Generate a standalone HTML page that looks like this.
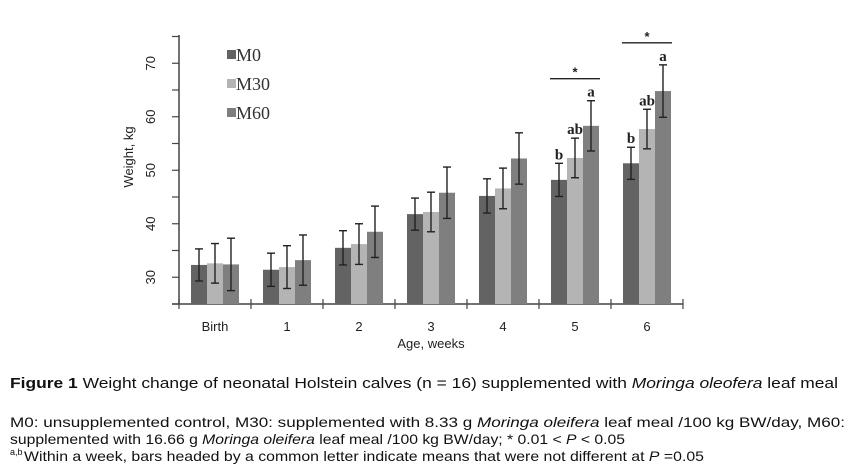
<!DOCTYPE html>
<html><head><meta charset="utf-8"><style>
html,body{margin:0;padding:0;background:#fff;width:851px;height:473px;overflow:hidden}
svg{display:block}
</style></head><body>
<svg id="chart" width="851" height="473" viewBox="0 0 851 473" xmlns="http://www.w3.org/2000/svg">
<g id="plot"></g>
<g font-family="'Liberation Sans',Arial,sans-serif" fill="#111">
<text x="10" y="388" font-size="15" textLength="828" lengthAdjust="spacingAndGlyphs"><tspan font-weight="bold">Figure 1</tspan> Weight change of neonatal Holstein calves (n = 16) supplemented with <tspan font-style="italic">Moringa oleofera</tspan> leaf meal</text>
<text x="10" y="427" font-size="14" textLength="835" lengthAdjust="spacingAndGlyphs">M0: unsupplemented control, M30: supplemented with 8.33 g <tspan font-style="italic">Moringa oleifera</tspan> leaf meal /100 kg BW/day, M60:</text>
<text x="10" y="444" font-size="14" textLength="615" lengthAdjust="spacingAndGlyphs">supplemented with 16.66 g <tspan font-style="italic">Moringa oleifera</tspan> leaf meal /100 kg BW/day; * 0.01 &lt; <tspan font-style="italic">P</tspan> &lt; 0.05</text>
<text x="10" y="455" font-size="9">a,b</text>
<text x="24" y="461" font-size="14" textLength="680" lengthAdjust="spacingAndGlyphs">Within a week, bars headed by a common letter indicate means that were not different at <tspan font-style="italic">P</tspan> =0.05</text>
</g>
</svg>
<script>
const categories = ["Birth","1","2","3","4","5","6"];
const m0 = [32.3,31.4,35.5,41.8,45.2,48.2,51.3];
const m30 = [32.6,31.9,36.2,42.2,46.6,52.3,57.7];
const m60 = [32.4,33.2,38.5,45.8,52.2,58.3,64.8];
const m0Err = [3.0,3.1,3.2,3.0,3.2,3.1,3.0];
const m30Err = [3.7,4.0,3.8,3.7,3.8,3.7,3.7];
const m60Err = [4.9,4.7,4.8,4.8,4.8,4.7,4.9];
const yTicks = [30,40,50,60,70];
const m0Letters = ["","","","","","b","b"];
const m30Letters = ["","","","","","ab","ab"];
const m60Letters = ["","","","","","a","a"];
const sigWeeks = ["5","6"];

const NS="http://www.w3.org/2000/svg";
const g=document.getElementById('plot');
const x0=179, catW=72, yBase=304, yMin=25, pxPer=5.35;
const y=v=>yBase-(v-yMin)*pxPer;
const catX=i=>x0+catW*i+catW/2;
function el(t,a,p){const e=document.createElementNS(NS,t);for(const k in a)e.setAttribute(k,a[k]);(p||g).appendChild(e);return e;}

// axes
const ya=el('line',{x1:x0,y1:35,x2:x0,y2:yBase,stroke:'#444','stroke-width':1.5});


const xa=el('line',{x1:x0-7,y1:yBase,x2:x0+catW*categories.length,y2:yBase,stroke:'#444','stroke-width':1.5});


for(let v=yMin;v<=75;v+=5){
  const t=el('line',{x1:x0-7,y1:y(v),x2:x0,y2:y(v),stroke:'#444','stroke-width':1.2});
  
  
}
yTicks.forEach(v=>{
  const t=el('text',{x:0,y:0,transform:`translate(155,${y(v)}) rotate(-90)`,'text-anchor':'middle','font-size':13,'font-family':"'Liberation Sans',Arial,sans-serif",fill:'#222'});
  t.textContent=v;
  
  
});
const yl=el('text',{x:0,y:0,transform:'translate(133,157) rotate(-90)','text-anchor':'middle','font-size':13,'font-family':"'Liberation Sans',Arial,sans-serif",fill:'#222'});
yl.textContent='Weight, kg';


for(let i=0;i<=categories.length;i++){
  const t=el('line',{x1:x0+catW*i,y1:yBase-5,x2:x0+catW*i,y2:yBase+5,stroke:'#444','stroke-width':1.2});
  
  
}
categories.forEach((c,i)=>{
  const t=el('text',{x:catX(i),y:331,'text-anchor':'middle','font-size':13,'font-family':"'Liberation Sans',Arial,sans-serif",fill:'#222'});
  t.textContent=c;
  
  
});
const xl=el('text',{x:431,y:348,'text-anchor':'middle','font-size':13,'font-family':"'Liberation Sans',Arial,sans-serif",fill:'#222'});
xl.textContent='Age, weeks';



const series=[{n:'m0',v:m0,e:m0Err,c:'#636363',l:m0Letters},{n:'m30',v:m30,e:m30Err,c:'#b4b4b4',l:m30Letters},{n:'m60',v:m60,e:m60Err,c:'#7f7f7f',l:m60Letters}];
const bw=16;
categories.forEach((c,i)=>{
  series.forEach((s,j)=>{
    const bx=catX(i)-24+j*bw;
    const r=el('rect',{x:bx,y:y(s.v[i]),width:bw,height:yBase-y(s.v[i]),fill:s.c});
    
    
    const cx=bx+bw/2, hi=y(s.v[i]+s.e[i]), lo=y(s.v[i]-s.e[i]);
    const eg=el('g',{stroke:'#222','stroke-width':1.4});
    
    
    el('line',{x1:cx,y1:hi,x2:cx,y2:lo},eg);
    el('line',{x1:cx-4,y1:hi,x2:cx+4,y2:hi},eg);
    el('line',{x1:cx-4,y1:lo,x2:cx+4,y2:lo},eg);
    if(s.l[i]){
      const t=el('text',{x:cx,y:hi-4,'text-anchor':'middle','font-size':15,'font-weight':'bold','font-family':"'Liberation Serif',serif",fill:'#222'});
      t.textContent=s.l[i];
      
      
    }
  });
});
sigWeeks.forEach(w=>{
  const i=categories.indexOf(w);
  const top=y(m60[i]+m60Err[i])-22;
  const ln=el('line',{x1:catX(i)-25,y1:top,x2:catX(i)+25,y2:top,stroke:'#222','stroke-width':1.4});
  
  
  const st=el('text',{x:catX(i),y:top-2,'text-anchor':'middle','font-size':13,'font-weight':'bold','font-family':"'Liberation Sans',sans-serif",fill:'#222'});
  st.textContent='*';
  
  
});
// legend
const labels=['M0','M30','M60'];
series.forEach((s,j)=>{
  const ly=55+j*29;
  const lg=el('g',{});
  
  
  el('rect',{x:227,y:ly-5,width:9,height:9,fill:s.c},lg);
  const t=el('text',{x:236,y:ly+6,'font-size':18,'font-family':"'Liberation Serif',serif",fill:'#333'},lg);
  t.textContent=labels[j];
});
</script>
</body></html>
